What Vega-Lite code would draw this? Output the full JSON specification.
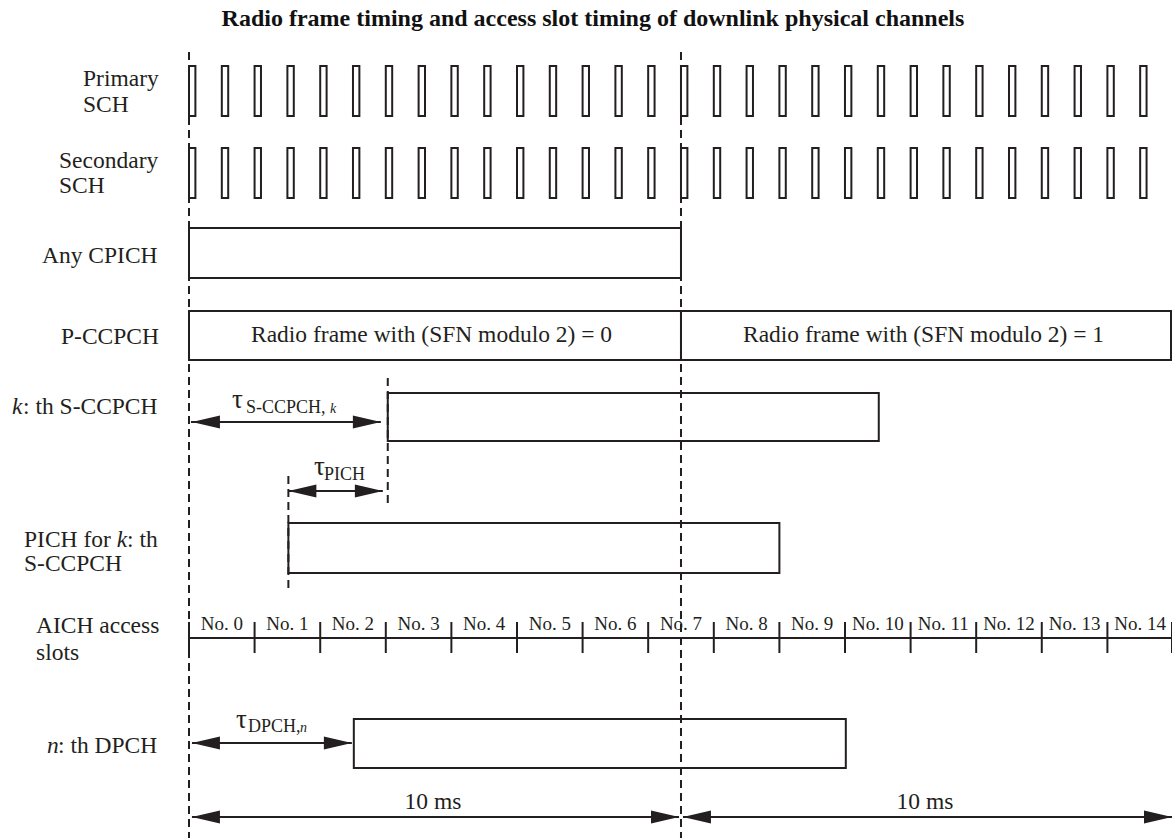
{
  "$schema": "https://vega.github.io/schema/vega-lite/v6.json",
  "width": 1172,
  "height": 838,
  "padding": 0,
  "autosize": {"type": "none"},
  "background": "white",
  "config": {"view": {"stroke": null}},
  "datasets": {
    "boxes": [
      {"x": 0, "x2": 10, "y": 228, "y2": 278},
      {"x": 0, "x2": 10, "y": 311, "y2": 360},
      {"x": 10, "x2": 19.96, "y": 311, "y2": 360},
      {"x": 4.04, "x2": 14.02, "y": 393, "y2": 441},
      {"x": 2.02, "x2": 12.0, "y": 523, "y2": 573},
      {"x": 3.35, "x2": 13.35, "y": 719, "y2": 768}
    ],
    "sch": [
      {"x": 0, "x2": 0.13, "y": 66, "y2": 116}, {"x": 0.667, "x2": 0.797, "y": 66, "y2": 116},
      {"x": 1.333, "x2": 1.463, "y": 66, "y2": 116}, {"x": 2, "x2": 2.13, "y": 66, "y2": 116},
      {"x": 2.667, "x2": 2.797, "y": 66, "y2": 116}, {"x": 3.333, "x2": 3.463, "y": 66, "y2": 116},
      {"x": 4, "x2": 4.13, "y": 66, "y2": 116}, {"x": 4.667, "x2": 4.797, "y": 66, "y2": 116},
      {"x": 5.333, "x2": 5.463, "y": 66, "y2": 116}, {"x": 6, "x2": 6.13, "y": 66, "y2": 116},
      {"x": 6.667, "x2": 6.797, "y": 66, "y2": 116}, {"x": 7.333, "x2": 7.463, "y": 66, "y2": 116},
      {"x": 8, "x2": 8.13, "y": 66, "y2": 116}, {"x": 8.667, "x2": 8.797, "y": 66, "y2": 116},
      {"x": 9.333, "x2": 9.463, "y": 66, "y2": 116}, {"x": 10, "x2": 10.13, "y": 66, "y2": 116},
      {"x": 10.667, "x2": 10.797, "y": 66, "y2": 116}, {"x": 11.333, "x2": 11.463, "y": 66, "y2": 116},
      {"x": 12, "x2": 12.13, "y": 66, "y2": 116}, {"x": 12.667, "x2": 12.797, "y": 66, "y2": 116},
      {"x": 13.333, "x2": 13.463, "y": 66, "y2": 116}, {"x": 14, "x2": 14.13, "y": 66, "y2": 116},
      {"x": 14.667, "x2": 14.797, "y": 66, "y2": 116}, {"x": 15.333, "x2": 15.463, "y": 66, "y2": 116},
      {"x": 16, "x2": 16.13, "y": 66, "y2": 116}, {"x": 16.667, "x2": 16.797, "y": 66, "y2": 116},
      {"x": 17.333, "x2": 17.463, "y": 66, "y2": 116}, {"x": 18, "x2": 18.13, "y": 66, "y2": 116},
      {"x": 18.667, "x2": 18.797, "y": 66, "y2": 116}, {"x": 19.333, "x2": 19.463, "y": 66, "y2": 116},
      {"x": 0, "x2": 0.13, "y": 148, "y2": 198}, {"x": 0.667, "x2": 0.797, "y": 148, "y2": 198},
      {"x": 1.333, "x2": 1.463, "y": 148, "y2": 198}, {"x": 2, "x2": 2.13, "y": 148, "y2": 198},
      {"x": 2.667, "x2": 2.797, "y": 148, "y2": 198}, {"x": 3.333, "x2": 3.463, "y": 148, "y2": 198},
      {"x": 4, "x2": 4.13, "y": 148, "y2": 198}, {"x": 4.667, "x2": 4.797, "y": 148, "y2": 198},
      {"x": 5.333, "x2": 5.463, "y": 148, "y2": 198}, {"x": 6, "x2": 6.13, "y": 148, "y2": 198},
      {"x": 6.667, "x2": 6.797, "y": 148, "y2": 198}, {"x": 7.333, "x2": 7.463, "y": 148, "y2": 198},
      {"x": 8, "x2": 8.13, "y": 148, "y2": 198}, {"x": 8.667, "x2": 8.797, "y": 148, "y2": 198},
      {"x": 9.333, "x2": 9.463, "y": 148, "y2": 198}, {"x": 10, "x2": 10.13, "y": 148, "y2": 198},
      {"x": 10.667, "x2": 10.797, "y": 148, "y2": 198}, {"x": 11.333, "x2": 11.463, "y": 148, "y2": 198},
      {"x": 12, "x2": 12.13, "y": 148, "y2": 198}, {"x": 12.667, "x2": 12.797, "y": 148, "y2": 198},
      {"x": 13.333, "x2": 13.463, "y": 148, "y2": 198}, {"x": 14, "x2": 14.13, "y": 148, "y2": 198},
      {"x": 14.667, "x2": 14.797, "y": 148, "y2": 198}, {"x": 15.333, "x2": 15.463, "y": 148, "y2": 198},
      {"x": 16, "x2": 16.13, "y": 148, "y2": 198}, {"x": 16.667, "x2": 16.797, "y": 148, "y2": 198},
      {"x": 17.333, "x2": 17.463, "y": 148, "y2": 198}, {"x": 18, "x2": 18.13, "y": 148, "y2": 198},
      {"x": 18.667, "x2": 18.797, "y": 148, "y2": 198}, {"x": 19.333, "x2": 19.463, "y": 148, "y2": 198}
    ],
    "dashes": [
      {"x": 0, "y": 52, "y2": 838},
      {"x": 10, "y": 52, "y2": 838},
      {"x": 4.04, "y": 378, "y2": 508},
      {"x": 2.02, "y": 476, "y2": 590}
    ],
    "hlines": [
      {"x": 0.04, "x2": 3.9, "y": 422},
      {"x": 2.02, "x2": 3.94, "y": 491},
      {"x": 0.06, "x2": 3.31, "y": 743},
      {"x": 0.06, "x2": 9.96, "y": 817},
      {"x": 10.04, "x2": 19.98, "y": 817},
      {"x": 0, "x2": 19.98, "y": 638}
    ],
    "ticks": [
      {"x": 0, "y": 622, "y2": 653}, {"x": 1.333, "y": 622, "y2": 653},
      {"x": 2.667, "y": 622, "y2": 653}, {"x": 4, "y": 622, "y2": 653},
      {"x": 5.333, "y": 622, "y2": 653}, {"x": 6.667, "y": 622, "y2": 653},
      {"x": 8, "y": 622, "y2": 653}, {"x": 9.333, "y": 622, "y2": 653},
      {"x": 10.667, "y": 622, "y2": 653}, {"x": 12, "y": 622, "y2": 653},
      {"x": 13.333, "y": 622, "y2": 653}, {"x": 14.667, "y": 622, "y2": 653},
      {"x": 16, "y": 622, "y2": 653}, {"x": 17.333, "y": 622, "y2": 653},
      {"x": 18.667, "y": 622, "y2": 653}, {"x": 19.98, "y": 622, "y2": 653}
    ],
    "heads": [
      {"x": 0.06, "y": 422, "dir": "left"}, {"x": 3.9, "y": 422, "dir": "right"},
      {"x": 2.02, "y": 491, "dir": "left"}, {"x": 3.94, "y": 491, "dir": "right"},
      {"x": 0.06, "y": 743, "dir": "left"}, {"x": 3.31, "y": 743, "dir": "right"},
      {"x": 0.06, "y": 817, "dir": "left"}, {"x": 9.96, "y": 817, "dir": "right"},
      {"x": 10.04, "y": 817, "dir": "left"}, {"x": 19.98, "y": 817, "dir": "right"}
    ],
    "title": [
      {"x": 8.211, "y": 26, "text": "Radio frame timing and access slot timing of downlink physical channels"}
    ],
    "labels": [
      {"x": -2.154, "y": 86, "text": "Primary"},
      {"x": -2.154, "y": 112, "text": "SCH"},
      {"x": -2.642, "y": 168, "text": "Secondary"},
      {"x": -2.642, "y": 193, "text": "SCH"},
      {"x": -2.988, "y": 263, "text": "Any CPICH"},
      {"x": -2.602, "y": 344, "text": "P-CCPCH"},
      {"x": -3.374, "y": 414, "text": ": th S-CCPCH"},
      {"x": -3.354, "y": 547, "text": "PICH for"},
      {"x": -1.26, "y": 547, "text": ": th"},
      {"x": -3.354, "y": 571, "text": "S-CCPCH"},
      {"x": -3.11, "y": 633, "text": "AICH access"},
      {"x": -3.11, "y": 660, "text": "slots"},
      {"x": -2.663, "y": 753, "text": ": th DPCH"}
    ],
    "italics": [
      {"x": -3.598, "y": 414, "text": "k"},
      {"x": -1.47, "y": 547, "text": "k"},
      {"x": -2.886, "y": 753, "text": "n"}
    ],
    "centered": [
      {"x": 4.93, "y": 342, "text": "Radio frame with (SFN modulo 2) = 0"},
      {"x": 14.93, "y": 342, "text": "Radio frame with (SFN modulo 2) = 1"},
      {"x": 4.96, "y": 809, "text": "10 ms"},
      {"x": 14.96, "y": 809, "text": "10 ms"}
    ],
    "taus": [
      {"x": 0.874, "y": 408, "text": "τ"},
      {"x": 2.541, "y": 475, "text": "τ"},
      {"x": 0.956, "y": 728, "text": "τ"}
    ],
    "subs": [
      {"x": 1.159, "y": 413, "text": "S-CCPCH,"},
      {"x": 2.744, "y": 480, "text": "PICH"},
      {"x": 1.199, "y": 732, "text": "DPCH,"}
    ],
    "subitalics": [
      {"x": 2.866, "y": 413, "text": "k"},
      {"x": 2.256, "y": 732, "text": "n"}
    ],
    "slots": [
      {"x": 0.667, "y": 630, "text": "No. 0"}, {"x": 2, "y": 630, "text": "No. 1"},
      {"x": 3.333, "y": 630, "text": "No. 2"}, {"x": 4.667, "y": 630, "text": "No. 3"},
      {"x": 6, "y": 630, "text": "No. 4"}, {"x": 7.333, "y": 630, "text": "No. 5"},
      {"x": 8.667, "y": 630, "text": "No. 6"}, {"x": 10, "y": 630, "text": "No. 7"},
      {"x": 11.333, "y": 630, "text": "No. 8"}, {"x": 12.667, "y": 630, "text": "No. 9"},
      {"x": 14, "y": 630, "text": "No. 10"}, {"x": 15.333, "y": 630, "text": "No. 11"},
      {"x": 16.667, "y": 630, "text": "No. 12"}, {"x": 18, "y": 630, "text": "No. 13"},
      {"x": 19.333, "y": 630, "text": "No. 14"}
    ]
  },
  "encoding": {
    "x": {"field": "x", "type": "quantitative", "scale": {"domain": [-3.8415, 19.98], "nice": false, "zero": false}, "axis": null},
    "y": {"field": "y", "type": "quantitative", "scale": {"domain": [0, 838], "reverse": true, "nice": false, "zero": false}, "axis": null}
  },
  "layer": [
    {
      "data": {"name": "boxes"},
      "mark": {"type": "rect", "fill": "white", "stroke": "#231f20", "strokeWidth": 2},
      "encoding": {"x2": {"field": "x2"}, "y2": {"field": "y2"}}
    },
    {
      "data": {"name": "sch"},
      "mark": {"type": "rect", "fill": "white", "stroke": "#231f20", "strokeWidth": 2},
      "encoding": {"x2": {"field": "x2"}, "y2": {"field": "y2"}}
    },
    {
      "data": {"name": "hlines"},
      "mark": {"type": "rule", "color": "#231f20", "strokeWidth": 2},
      "encoding": {"x2": {"field": "x2"}}
    },
    {
      "data": {"name": "ticks"},
      "mark": {"type": "rule", "color": "#231f20", "strokeWidth": 2},
      "encoding": {"y2": {"field": "y2"}}
    },
    {
      "data": {"name": "dashes"},
      "mark": {"type": "rule", "color": "#231f20", "strokeWidth": 2, "strokeDash": [8, 5]},
      "encoding": {"y2": {"field": "y2"}}
    },
    {
      "data": {"name": "heads"},
      "mark": {"type": "point", "filled": true, "opacity": 1, "strokeWidth": 0, "color": "#231f20", "size": 784},
      "encoding": {
        "shape": {"field": "dir", "type": "nominal", "scale": {"domain": ["right", "left"], "range": ["M0,0L-2,-0.46L-2,0.46Z", "M0,0L2,-0.46L2,0.46Z"]}, "legend": null}
      }
    },
    {
      "data": {"name": "title"},
      "mark": {"type": "text", "font": "Liberation Serif", "fontSize": 24, "fontWeight": "bold", "align": "center", "baseline": "alphabetic", "color": "#111111"},
      "encoding": {"text": {"field": "text"}}
    },
    {
      "data": {"name": "labels"},
      "mark": {"type": "text", "font": "Liberation Serif", "fontSize": 23.5, "align": "left", "baseline": "alphabetic", "color": "#231f20"},
      "encoding": {"text": {"field": "text"}}
    },
    {
      "data": {"name": "italics"},
      "mark": {"type": "text", "font": "Liberation Serif", "fontSize": 23.5, "fontStyle": "italic", "align": "left", "baseline": "alphabetic", "color": "#231f20"},
      "encoding": {"text": {"field": "text"}}
    },
    {
      "data": {"name": "centered"},
      "mark": {"type": "text", "font": "Liberation Serif", "fontSize": 23.5, "align": "center", "baseline": "alphabetic", "color": "#231f20"},
      "encoding": {"text": {"field": "text"}}
    },
    {
      "data": {"name": "taus"},
      "mark": {"type": "text", "font": "Liberation Serif", "fontSize": 27, "align": "left", "baseline": "alphabetic", "color": "#231f20"},
      "encoding": {"text": {"field": "text"}}
    },
    {
      "data": {"name": "subs"},
      "mark": {"type": "text", "font": "Liberation Serif", "fontSize": 18, "align": "left", "baseline": "alphabetic", "color": "#231f20"},
      "encoding": {"text": {"field": "text"}}
    },
    {
      "data": {"name": "subitalics"},
      "mark": {"type": "text", "font": "Liberation Serif", "fontSize": 14, "fontStyle": "italic", "align": "left", "baseline": "alphabetic", "color": "#231f20"},
      "encoding": {"text": {"field": "text"}}
    },
    {
      "data": {"name": "slots"},
      "mark": {"type": "text", "font": "Liberation Serif", "fontSize": 19, "align": "center", "baseline": "alphabetic", "color": "#231f20"},
      "encoding": {"text": {"field": "text"}}
    }
  ]
}
